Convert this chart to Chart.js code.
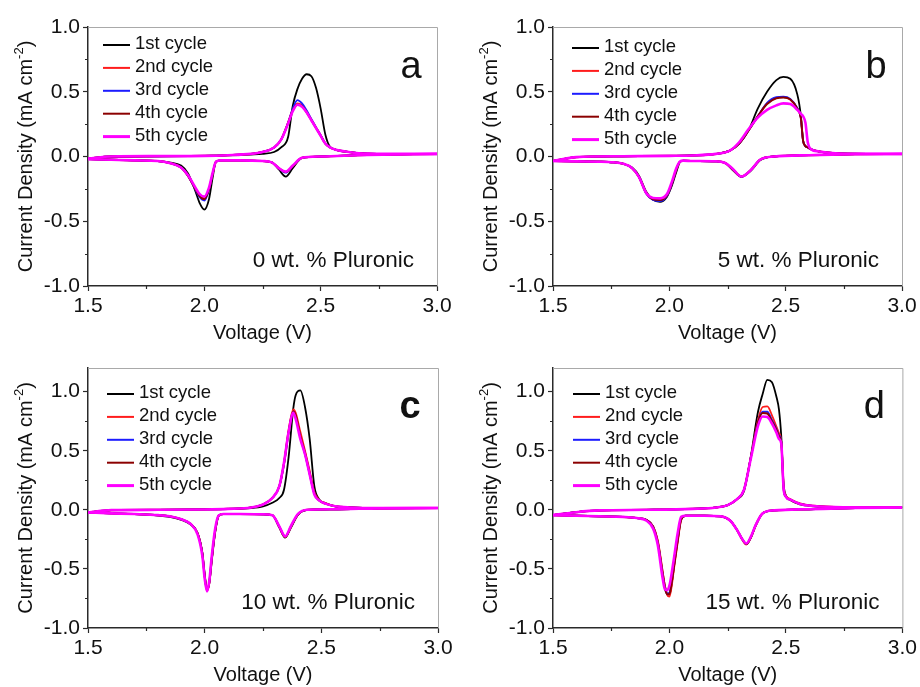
<!DOCTYPE html>
<html>
<head>
<meta charset="utf-8">
<script src="https://cdn.jsdelivr.net/npm/chart.js@4.4.1/dist/chart.umd.min.js"></script>
<style>
  html, body { margin: 0; padding: 0; background: #fff; }
  #wrap { position: relative; width: 920px; height: 687px; overflow: hidden; }
  canvas { position: absolute; }
</style>
</head>
<body>
<div id="wrap">
  <canvas id="pa" width="460" height="345" style="left:0;top:0"></canvas>
  <canvas id="pb" width="460" height="345" style="left:460px;top:0"></canvas>
  <canvas id="pc" width="460" height="342" style="left:0;top:345px"></canvas>
  <canvas id="pd" width="460" height="342" style="left:460px;top:345px"></canvas>
</div>
<script>
// ---- data (voltage in V, current density in mA cm-2) ----
const CYCLES = ["1st cycle", "2nd cycle", "3rd cycle", "4th cycle", "5th cycle"];
const LETTERS = ["a", "b", "c", "d"];
const NOTES = ["0 wt. % Pluronic", "5 wt. % Pluronic", "10 wt. % Pluronic", "15 wt. % Pluronic"];
const X_TICKS = [1.5, 2.0, 2.5, 3.0];
const X_MINOR = [1.75, 2.25, 2.75];
const Y_TICKS = [-1.0, -0.5, 0.0, 0.5, 1.0];
const Y_MINOR = [-0.75, -0.25, 0.25, 0.75];
const Y_MAX = [1.0, 1.0, 1.2, 1.2];

// panel a: 0 wt. %
const A_RED_V = [1.5, 1.6, 1.7, 1.8, 1.85, 1.9, 1.93, 1.96, 1.98, 2.0, 2.02, 2.035, 2.05, 2.07, 2.15, 2.25, 2.29, 2.32, 2.35, 2.38, 2.42, 2.5, 2.7, 3.0];
const A_RED_1 = [-0.02, -0.025, -0.03, -0.035, -0.045, -0.07, -0.13, -0.26, -0.36, -0.41, -0.33, -0.17, -0.04, -0.03, -0.03, -0.035, -0.045, -0.1, -0.155, -0.09, -0.01, 0.0, 0.012, 0.02];
const A_RED_2 = [-0.02, -0.025, -0.03, -0.035, -0.05, -0.085, -0.15, -0.24, -0.3, -0.32, -0.25, -0.14, -0.04, -0.03, -0.03, -0.035, -0.045, -0.09, -0.12, -0.075, -0.01, 0.0, 0.012, 0.02];
const A_RED_3 = [-0.02, -0.025, -0.03, -0.035, -0.05, -0.085, -0.15, -0.25, -0.315, -0.34, -0.26, -0.14, -0.04, -0.03, -0.03, -0.035, -0.045, -0.09, -0.125, -0.075, -0.01, 0.0, 0.012, 0.02];
const A_RED_4 = [-0.02, -0.025, -0.03, -0.035, -0.05, -0.085, -0.15, -0.245, -0.305, -0.33, -0.255, -0.14, -0.04, -0.03, -0.03, -0.035, -0.045, -0.09, -0.12, -0.075, -0.01, 0.0, 0.012, 0.02];
const A_RED_5 = [-0.02, -0.025, -0.03, -0.035, -0.05, -0.085, -0.145, -0.235, -0.29, -0.31, -0.24, -0.13, -0.04, -0.03, -0.03, -0.035, -0.045, -0.09, -0.117, -0.07, -0.01, 0.0, 0.012, 0.02];
const A_OX_V = [1.5, 1.6, 1.8, 2.0, 2.1, 2.2, 2.25, 2.3, 2.33, 2.36, 2.38, 2.4, 2.42, 2.44, 2.46, 2.48, 2.5, 2.52, 2.54, 2.57, 2.62, 2.7, 2.8, 3.0];
const A_OX_1 = [-0.02, -0.005, 0.0, 0.005, 0.008, 0.015, 0.02, 0.035, 0.07, 0.15, 0.39, 0.52, 0.6, 0.635, 0.62, 0.53, 0.37, 0.17, 0.075, 0.05, 0.035, 0.022, 0.02, 0.02];
const A_OX_2 = [-0.015, 0.0, 0.003, 0.005, 0.01, 0.02, 0.035, 0.07, 0.13, 0.26, 0.36, 0.41, 0.395, 0.345, 0.285, 0.225, 0.165, 0.1, 0.07, 0.05, 0.035, 0.022, 0.02, 0.02];
const A_OX_3 = [-0.015, 0.0, 0.003, 0.005, 0.01, 0.02, 0.035, 0.07, 0.13, 0.26, 0.37, 0.435, 0.41, 0.355, 0.29, 0.225, 0.165, 0.1, 0.07, 0.05, 0.035, 0.022, 0.02, 0.02];
const A_OX_4 = [-0.015, 0.0, 0.003, 0.005, 0.01, 0.02, 0.035, 0.07, 0.13, 0.26, 0.355, 0.4, 0.39, 0.34, 0.28, 0.22, 0.16, 0.1, 0.07, 0.05, 0.035, 0.022, 0.02, 0.02];
const A_OX_5 = [-0.015, 0.0, 0.003, 0.005, 0.01, 0.02, 0.035, 0.07, 0.13, 0.255, 0.35, 0.4, 0.385, 0.34, 0.28, 0.22, 0.16, 0.1, 0.07, 0.05, 0.035, 0.022, 0.02, 0.02];

// panel b: 5 wt. %
const B_RED_V = [1.5, 1.6, 1.7, 1.76, 1.8, 1.84, 1.87, 1.9, 1.93, 1.96, 1.99, 2.01, 2.03, 2.045, 2.06, 2.1, 2.2, 2.24, 2.27, 2.31, 2.35, 2.39, 2.45, 2.6, 2.8, 3.0];
const B_RED_1 = [-0.035, -0.038, -0.04, -0.045, -0.055, -0.085, -0.15, -0.27, -0.335, -0.35, -0.31, -0.23, -0.12, -0.045, -0.032, -0.035, -0.037, -0.05, -0.1, -0.155, -0.11, -0.03, 0.0, 0.01, 0.018, 0.02];
const B_RED_2 = [-0.035, -0.038, -0.04, -0.045, -0.055, -0.09, -0.16, -0.28, -0.325, -0.33, -0.295, -0.21, -0.1, -0.042, -0.032, -0.035, -0.037, -0.05, -0.095, -0.155, -0.105, -0.025, 0.0, 0.01, 0.018, 0.02];
const B_RED_3 = [-0.035, -0.038, -0.04, -0.045, -0.055, -0.09, -0.16, -0.285, -0.335, -0.345, -0.305, -0.22, -0.1, -0.042, -0.032, -0.035, -0.037, -0.05, -0.095, -0.158, -0.105, -0.025, 0.0, 0.01, 0.018, 0.02];
const B_RED_4 = [-0.035, -0.038, -0.04, -0.045, -0.055, -0.09, -0.16, -0.28, -0.33, -0.335, -0.3, -0.215, -0.1, -0.042, -0.032, -0.035, -0.037, -0.05, -0.095, -0.155, -0.105, -0.025, 0.0, 0.01, 0.018, 0.02];
const B_RED_5 = [-0.035, -0.038, -0.04, -0.045, -0.055, -0.09, -0.16, -0.28, -0.32, -0.323, -0.29, -0.2, -0.09, -0.04, -0.032, -0.035, -0.037, -0.05, -0.09, -0.155, -0.105, -0.025, 0.0, 0.01, 0.018, 0.02];
const B_OX_V = [1.5, 1.6, 1.8, 2.0, 2.1, 2.2, 2.26, 2.3, 2.34, 2.38, 2.42, 2.46, 2.49, 2.52, 2.55, 2.565, 2.575, 2.585, 2.595, 2.61, 2.64, 2.7, 2.85, 3.0];
const B_OX_1 = [-0.035, -0.005, 0.002, 0.005, 0.008, 0.02, 0.045, 0.1, 0.2, 0.37, 0.5, 0.59, 0.615, 0.6, 0.48, 0.32, 0.12, 0.08, 0.07, 0.055, 0.04, 0.027, 0.02, 0.02];
const B_OX_2 = [-0.035, -0.005, 0.002, 0.005, 0.008, 0.02, 0.045, 0.1, 0.2, 0.31, 0.41, 0.452, 0.458, 0.44, 0.37, 0.3, 0.12, 0.08, 0.07, 0.055, 0.04, 0.027, 0.02, 0.02];
const B_OX_3 = [-0.035, -0.005, 0.002, 0.005, 0.008, 0.02, 0.045, 0.1, 0.2, 0.31, 0.415, 0.458, 0.462, 0.445, 0.375, 0.3, 0.12, 0.08, 0.07, 0.055, 0.04, 0.027, 0.02, 0.02];
const B_OX_4 = [-0.035, -0.005, 0.002, 0.005, 0.008, 0.02, 0.045, 0.1, 0.2, 0.31, 0.405, 0.45, 0.455, 0.44, 0.37, 0.3, 0.12, 0.08, 0.07, 0.055, 0.04, 0.027, 0.02, 0.02];
const B_OX_5 = [-0.035, -0.005, 0.002, 0.005, 0.008, 0.02, 0.045, 0.11, 0.21, 0.3, 0.36, 0.395, 0.41, 0.405, 0.36, 0.33, 0.31, 0.26, 0.11, 0.055, 0.04, 0.027, 0.02, 0.02];

// panel c: 10 wt. %
const C_RED_V = [1.5, 1.6, 1.7, 1.8, 1.85, 1.9, 1.94, 1.97, 1.99, 2.0, 2.01, 2.02, 2.03, 2.045, 2.06, 2.08, 2.15, 2.25, 2.29, 2.32, 2.345, 2.37, 2.4, 2.44, 2.55, 2.75, 3.0];
const C_RED_1 = [-0.023, -0.03, -0.036, -0.048, -0.06, -0.085, -0.125, -0.2, -0.36, -0.54, -0.68, -0.62, -0.44, -0.19, -0.05, -0.036, -0.036, -0.038, -0.045, -0.15, -0.235, -0.15, -0.04, 0.0, 0.005, 0.012, 0.015];
const C_RED_2 = [-0.023, -0.03, -0.036, -0.045, -0.055, -0.08, -0.12, -0.2, -0.37, -0.56, -0.685, -0.62, -0.43, -0.18, -0.05, -0.036, -0.036, -0.038, -0.045, -0.145, -0.23, -0.145, -0.04, 0.0, 0.005, 0.012, 0.015];
const C_RED_3 = [-0.023, -0.03, -0.036, -0.045, -0.055, -0.08, -0.12, -0.2, -0.37, -0.56, -0.68, -0.61, -0.42, -0.18, -0.05, -0.036, -0.036, -0.038, -0.045, -0.145, -0.225, -0.14, -0.04, 0.0, 0.005, 0.012, 0.015];
const C_RED_4 = [-0.023, -0.03, -0.036, -0.045, -0.055, -0.08, -0.12, -0.2, -0.37, -0.56, -0.68, -0.61, -0.42, -0.18, -0.05, -0.036, -0.036, -0.038, -0.045, -0.145, -0.23, -0.14, -0.04, 0.0, 0.005, 0.012, 0.015];
const C_RED_5 = [-0.023, -0.03, -0.036, -0.045, -0.055, -0.08, -0.12, -0.21, -0.39, -0.58, -0.69, -0.6, -0.4, -0.16, -0.048, -0.036, -0.036, -0.038, -0.045, -0.14, -0.225, -0.135, -0.035, 0.0, 0.005, 0.012, 0.015];
const C_OX_V = [1.5, 1.6, 1.8, 2.0, 2.1, 2.2, 2.25, 2.29, 2.32, 2.34, 2.36, 2.38, 2.39, 2.41, 2.43, 2.45, 2.47, 2.49, 2.52, 2.56, 2.62, 2.75, 3.0];
const C_OX_1 = [-0.023, -0.003, 0.0, 0.003, 0.006, 0.015, 0.03, 0.06, 0.1, 0.17, 0.45, 0.86, 0.97, 1.01, 0.87, 0.6, 0.2, 0.09, 0.055, 0.03, 0.02, 0.015, 0.015];
const C_OX_2 = [-0.023, -0.003, 0.0, 0.003, 0.008, 0.02, 0.045, 0.1, 0.2, 0.4, 0.68, 0.85, 0.82, 0.66, 0.5, 0.33, 0.15, 0.085, 0.055, 0.03, 0.02, 0.015, 0.015];
const C_OX_3 = [-0.023, -0.003, 0.0, 0.003, 0.008, 0.02, 0.045, 0.1, 0.2, 0.39, 0.66, 0.83, 0.79, 0.61, 0.47, 0.3, 0.135, 0.08, 0.05, 0.03, 0.02, 0.015, 0.015];
const C_OX_4 = [-0.023, -0.003, 0.0, 0.003, 0.008, 0.02, 0.045, 0.1, 0.2, 0.39, 0.66, 0.83, 0.8, 0.62, 0.48, 0.31, 0.14, 0.08, 0.05, 0.03, 0.02, 0.015, 0.015];
const C_OX_5 = [-0.023, -0.003, 0.0, 0.003, 0.008, 0.02, 0.045, 0.1, 0.2, 0.4, 0.66, 0.82, 0.77, 0.6, 0.47, 0.3, 0.13, 0.08, 0.05, 0.03, 0.02, 0.015, 0.015];

// panel d: 15 wt. %
const D_RED_V = [1.5, 1.6, 1.7, 1.8, 1.86, 1.9, 1.93, 1.95, 1.97, 1.98, 1.99, 2.0, 2.01, 2.02, 2.035, 2.05, 2.07, 2.15, 2.22, 2.26, 2.29, 2.31, 2.33, 2.35, 2.37, 2.4, 2.45, 2.6, 2.8, 3.0];
const D_RED_1 = [-0.045, -0.05, -0.055, -0.06, -0.07, -0.085, -0.14, -0.27, -0.52, -0.64, -0.71, -0.72, -0.62, -0.47, -0.26, -0.08, -0.05, -0.05, -0.055, -0.09, -0.17, -0.24, -0.29, -0.23, -0.135, -0.03, -0.005, 0.005, 0.015, 0.02];
const D_RED_2 = [-0.045, -0.05, -0.055, -0.06, -0.07, -0.085, -0.14, -0.26, -0.51, -0.64, -0.72, -0.735, -0.64, -0.49, -0.28, -0.09, -0.05, -0.05, -0.055, -0.09, -0.17, -0.245, -0.295, -0.235, -0.135, -0.03, -0.005, 0.005, 0.015, 0.02];
const D_RED_3 = [-0.045, -0.05, -0.055, -0.06, -0.07, -0.085, -0.15, -0.28, -0.54, -0.66, -0.71, -0.7, -0.6, -0.46, -0.25, -0.075, -0.05, -0.05, -0.055, -0.09, -0.17, -0.24, -0.29, -0.23, -0.13, -0.03, -0.005, 0.005, 0.015, 0.02];
const D_RED_4 = [-0.045, -0.05, -0.055, -0.06, -0.07, -0.085, -0.15, -0.28, -0.54, -0.66, -0.715, -0.71, -0.61, -0.47, -0.26, -0.08, -0.05, -0.05, -0.055, -0.09, -0.17, -0.24, -0.29, -0.23, -0.13, -0.03, -0.005, 0.005, 0.015, 0.02];
const D_RED_5 = [-0.045, -0.05, -0.055, -0.06, -0.07, -0.09, -0.16, -0.3, -0.57, -0.67, -0.68, -0.64, -0.53, -0.4, -0.2, -0.06, -0.05, -0.05, -0.055, -0.09, -0.17, -0.24, -0.285, -0.225, -0.13, -0.03, -0.005, 0.005, 0.015, 0.02];
const D_OX_V = [1.5, 1.6, 1.7, 1.9, 2.1, 2.2, 2.25, 2.29, 2.32, 2.35, 2.38, 2.4, 2.42, 2.44, 2.46, 2.47, 2.48, 2.49, 2.5, 2.52, 2.56, 2.62, 2.75, 3.0];
const D_OX_1 = [-0.045, -0.02, -0.005, 0.0, 0.008, 0.02, 0.04, 0.09, 0.16, 0.46, 0.83, 0.98, 1.1, 1.08, 0.95, 0.85, 0.62, 0.22, 0.12, 0.08, 0.045, 0.03, 0.022, 0.02];
const D_OX_2 = [-0.045, -0.02, -0.005, 0.0, 0.008, 0.02, 0.04, 0.09, 0.17, 0.45, 0.76, 0.87, 0.875, 0.8, 0.7, 0.65, 0.58, 0.2, 0.12, 0.09, 0.055, 0.035, 0.022, 0.02];
const D_OX_3 = [-0.045, -0.02, -0.005, 0.0, 0.008, 0.02, 0.04, 0.09, 0.17, 0.45, 0.74, 0.83, 0.83, 0.76, 0.68, 0.63, 0.58, 0.18, 0.11, 0.085, 0.05, 0.032, 0.022, 0.02];
const D_OX_4 = [-0.045, -0.02, -0.005, 0.0, 0.008, 0.02, 0.04, 0.09, 0.17, 0.45, 0.74, 0.82, 0.815, 0.75, 0.67, 0.62, 0.57, 0.18, 0.11, 0.085, 0.05, 0.032, 0.022, 0.02];
const D_OX_5 = [-0.045, -0.02, -0.005, 0.0, 0.008, 0.02, 0.04, 0.09, 0.17, 0.44, 0.71, 0.79, 0.785, 0.73, 0.65, 0.6, 0.56, 0.18, 0.11, 0.085, 0.05, 0.032, 0.022, 0.02];

// ---- styling ----
const FONT = '"Liberation Sans", Arial, sans-serif';
const COLORS = ["#000000", "#ff1c1c", "#1c1cff", "#8b0000", "#ff00ff"];
const WIDTHS = [1.8, 1.8, 1.8, 2, 2.6];
const AXIS = "#2a2a2a";

// chart area (canvas coords) and decoration offsets for each panel
const LAYOUT = [
  { canvas: "pa", h: 345, area: { l: 88, t: 27, r: 437, b: 286 }, legendX: 15, legendY: 44, letterDx: 26, letterY: 78, letterBold: false },
  { canvas: "pb", h: 345, area: { l: 93, t: 27, r: 442, b: 286 }, legendX: 19, legendY: 47, letterDx: 26, letterY: 78, letterBold: false },
  { canvas: "pc", h: 342, area: { l: 88, t: 23, r: 438, b: 283 }, legendX: 19, legendY: 48, letterDx: 28, letterY: 73, letterBold: true },
  { canvas: "pd", h: 342, area: { l: 93, t: 23, r: 444, b: 283 }, legendX: 20, legendY: 48, letterDx: 28, letterY: 73, letterBold: false }
];

const SWEEPS = [
  { redV: A_RED_V, red: [A_RED_1, A_RED_2, A_RED_3, A_RED_4, A_RED_5], oxV: A_OX_V, ox: [A_OX_1, A_OX_2, A_OX_3, A_OX_4, A_OX_5] },
  { redV: B_RED_V, red: [B_RED_1, B_RED_2, B_RED_3, B_RED_4, B_RED_5], oxV: B_OX_V, ox: [B_OX_1, B_OX_2, B_OX_3, B_OX_4, B_OX_5] },
  { redV: C_RED_V, red: [C_RED_1, C_RED_2, C_RED_3, C_RED_4, C_RED_5], oxV: C_OX_V, ox: [C_OX_1, C_OX_2, C_OX_3, C_OX_4, C_OX_5] },
  { redV: D_RED_V, red: [D_RED_1, D_RED_2, D_RED_3, D_RED_4, D_RED_5], oxV: D_OX_V, ox: [D_OX_1, D_OX_2, D_OX_3, D_OX_4, D_OX_5] }
];

function toPoints(xs, ys) {
  return xs.map((x, k) => ({ x: x, y: ys[k] }));
}

function buildDatasets(sweep) {
  const sets = [];
  CYCLES.forEach((name, i) => {
    const common = {
      label: name,
      borderColor: COLORS[i],
      borderWidth: WIDTHS[i],
      pointRadius: 0,
      fill: false,
      cubicInterpolationMode: "monotone",
      order: CYCLES.length - i
    };
    sets.push({ ...common, data: toPoints(sweep.redV, sweep.red[i]) });
    sets.push({ ...common, data: toPoints(sweep.oxV, sweep.ox[i]) });
  });
  return sets;
}

// frame, minor ticks, axis titles, legend, panel letter and note
const panelDecor = {
  id: "panelDecor",
  afterDraw(chart, args, opts) {
    const ctx = chart.ctx;
    const area = chart.chartArea;
    const xs = chart.scales.x;
    const ys = chart.scales.y;
    ctx.save();

    // light frame on top and right
    ctx.strokeStyle = "#a9a9a9";
    ctx.lineWidth = 1;
    ctx.beginPath();
    ctx.moveTo(area.left, area.top + 0.5);
    ctx.lineTo(area.right + 0.5, area.top + 0.5);
    ctx.lineTo(area.right + 0.5, area.bottom);
    ctx.stroke();

    // minor ticks
    ctx.strokeStyle = AXIS;
    ctx.lineWidth = 1.2;
    ctx.beginPath();
    X_MINOR.forEach((v) => {
      const px = Math.round(xs.getPixelForValue(v)) + 0.5;
      ctx.moveTo(px, area.bottom);
      ctx.lineTo(px, area.bottom + 3);
    });
    Y_MINOR.forEach((v) => {
      const py = Math.round(ys.getPixelForValue(v)) + 0.5;
      ctx.moveTo(area.left, py);
      ctx.lineTo(area.left - 3, py);
    });
    ctx.stroke();

    ctx.fillStyle = "#111";

    // x title
    ctx.font = `20px ${FONT}`;
    ctx.textAlign = "center";
    ctx.textBaseline = "middle";
    ctx.fillText("Voltage (V)", (area.left + area.right) / 2, area.bottom + 47);

    // y title with superscript
    const main = "Current Density (mA cm";
    const sup = "-2";
    const tail = ")";
    ctx.font = `20px ${FONT}`;
    const wMain = ctx.measureText(main).width;
    const wTail = ctx.measureText(tail).width;
    ctx.font = `13px ${FONT}`;
    const wSup = ctx.measureText(sup).width;
    const total = wMain + wSup + wTail;
    ctx.translate(area.left - 63, (area.top + area.bottom) / 2);
    ctx.rotate(-Math.PI / 2);
    ctx.textAlign = "left";
    ctx.textBaseline = "alphabetic";
    let pos = -total / 2;
    ctx.font = `20px ${FONT}`;
    ctx.fillText(main, pos, 7);
    pos += wMain;
    ctx.font = `13px ${FONT}`;
    ctx.fillText(sup, pos, -2);
    pos += wSup;
    ctx.font = `20px ${FONT}`;
    ctx.fillText(tail, pos, 7);
    ctx.setTransform(1, 0, 0, 1, 0, 0);

    // legend
    ctx.font = `18.5px ${FONT}`;
    ctx.textAlign = "left";
    ctx.textBaseline = "middle";
    CYCLES.forEach((name, i) => {
      const y = opts.legendY + i * 22.9;
      const x0 = area.left + opts.legendX;
      ctx.strokeStyle = COLORS[i];
      ctx.lineWidth = i === 4 ? 3 : 2;
      ctx.beginPath();
      ctx.moveTo(x0, y + 1);
      ctx.lineTo(x0 + 27, y + 1);
      ctx.stroke();
      ctx.fillStyle = "#111";
      ctx.fillText(name, x0 + 32, y);
    });

    // panel letter
    ctx.font = `${opts.letterBold ? "bold " : ""}38px ${FONT}`;
    ctx.textAlign = "center";
    ctx.textBaseline = "alphabetic";
    ctx.fillText(opts.letter, area.right - opts.letterDx, opts.letterY);

    // composition note
    ctx.font = `22.5px ${FONT}`;
    ctx.textAlign = "right";
    ctx.fillText(opts.note, area.right - 23, area.bottom - 19);

    ctx.restore();
  }
};

function makeChart(idx) {
  const lay = LAYOUT[idx];
  const canvas = document.getElementById(lay.canvas);
  const padTop = lay.area.t;
  const padRight = canvas.width - lay.area.r;
  const yWidth = lay.area.l;
  const xHeight = lay.h - lay.area.b;

  return new Chart(canvas, {
    type: "line",
    data: { datasets: buildDatasets(SWEEPS[idx]) },
    plugins: [panelDecor],
    options: {
      responsive: false,
      animation: false,
      events: [],
      layout: { padding: { left: 0, top: padTop, right: padRight, bottom: 0 } },
      plugins: {
        legend: { display: false },
        tooltip: { enabled: false },
        panelDecor: {
          legendX: lay.legendX,
          legendY: lay.legendY,
          letterDx: lay.letterDx,
          letterY: lay.letterY,
          letterBold: lay.letterBold,
          letter: LETTERS[idx],
          note: NOTES[idx]
        }
      },
      scales: {
        x: {
          type: "linear",
          min: X_TICKS[0],
          max: X_TICKS[X_TICKS.length - 1],
          afterBuildTicks: (s) => { s.ticks = X_TICKS.map((v) => ({ value: v })); },
          afterFit: (s) => { s.height = xHeight; },
          ticks: {
            autoSkip: false,
            maxRotation: 0,
            padding: 3,
            color: "#111",
            font: { family: FONT, size: 21 },
            callback: (v) => Number(v).toFixed(1)
          },
          grid: { drawOnChartArea: false, drawTicks: true, tickLength: 5, tickColor: AXIS, tickWidth: 1.2 },
          border: { color: AXIS, width: 1.5 }
        },
        y: {
          type: "linear",
          min: -1.0,
          max: Y_MAX[idx],
          afterBuildTicks: (s) => { s.ticks = Y_TICKS.map((v) => ({ value: v })); },
          afterFit: (s) => { s.width = yWidth; },
          ticks: {
            autoSkip: false,
            padding: 3,
            color: "#111",
            font: { family: FONT, size: 21 },
            callback: (v) => Number(v).toFixed(1)
          },
          grid: { drawOnChartArea: false, drawTicks: true, tickLength: 5, tickColor: AXIS, tickWidth: 1.2 },
          border: { color: AXIS, width: 1.5 }
        }
      }
    }
  });
}

LAYOUT.forEach((_, i) => makeChart(i));
</script>
</body>
</html>
